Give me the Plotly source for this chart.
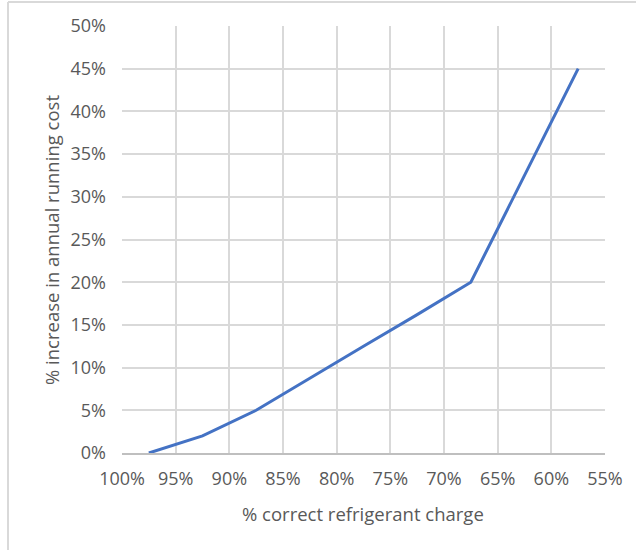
import plotly.graph_objects as go

# Refrigerant charge (% of correct) vs. increase in annual running cost (%)
charge_pct = [97.5, 92.5, 87.5, 82.5, 77.5, 72.5, 67.5, 62.5, 57.5]
cost_increase_pct = [0, 2, 5, 8.8, 12.5, 16.2, 20, 32.5, 45]

x_ticks = [100, 95, 90, 85, 80, 75, 70, 65, 60, 55]
y_ticks = [0, 5, 10, 15, 20, 25, 30, 35, 40, 45, 50]

W, H = 636, 550
L, R, T, B = 122, 31, 26, 97
plot_w = W - L - R
plot_h = H - T - B

FONT = "Open Sans"
TICK_COLOR = "#595959"
GRID = "#d9d9d9"
TICK_SIZE = 18
TITLE_SIZE = 18.5

fig = go.Figure()
fig.add_trace(go.Scatter(
    x=charge_pct,
    y=cost_increase_pct,
    mode="lines",
    line=dict(color="#4472C4", width=3),
    hoverinfo="x+y",
))

def px_to_paper_x(px):
    return (px - L) / plot_w

def px_to_paper_y(py):
    return (H - B - py) / plot_h

# light outer frame around the chart (left and top edges visible)
frame = dict(color="#d9d9d9", width=2)
fig.add_shape(type="line", xref="paper", yref="paper",
              x0=px_to_paper_x(8), x1=px_to_paper_x(8),
              y0=px_to_paper_y(2), y1=px_to_paper_y(560), line=frame)
fig.add_shape(type="line", xref="paper", yref="paper",
              x0=px_to_paper_x(8), x1=px_to_paper_x(640),
              y0=px_to_paper_y(2), y1=px_to_paper_y(2), line=frame)

# axis titles
fig.add_annotation(text="% correct refrigerant charge",
                   xref="paper", yref="paper",
                   x=px_to_paper_x(363), y=px_to_paper_y(513),
                   xanchor="center", yanchor="middle", showarrow=False,
                   font=dict(family=FONT, size=TITLE_SIZE, color=TICK_COLOR))
fig.add_annotation(text="% increase in annual running cost",
                   xref="paper", yref="paper",
                   x=px_to_paper_x(51), y=px_to_paper_y(240),
                   xanchor="center", yanchor="middle", showarrow=False,
                   textangle=-90,
                   font=dict(family=FONT, size=TITLE_SIZE, color=TICK_COLOR))

fig.update_layout(
    width=W, height=H,
    margin=dict(l=L, r=R, t=T, b=B),
    paper_bgcolor="white",
    plot_bgcolor="white",
    showlegend=False,
    font=dict(family=FONT, size=TICK_SIZE, color=TICK_COLOR),
    xaxis=dict(
        range=[100, 55],
        tickvals=x_ticks,
        ticktext=[f"{v}%" for v in x_ticks],
        showgrid=True, gridcolor=GRID, gridwidth=2,
        showline=True, linecolor="#bfbfbf", linewidth=2,
        zeroline=False,
        ticks="", ticklen=0,
        ticklabelstandoff=8,
        tickfont=dict(family=FONT, size=TICK_SIZE, color=TICK_COLOR),
    ),
    yaxis=dict(
        range=[0, 50],
        tickvals=y_ticks,
        ticktext=[f"{v}%" for v in y_ticks],
        showgrid=True, gridcolor=GRID, gridwidth=2,
        showline=False,
        zeroline=False,
        ticks="", ticklen=0,
        ticklabelstandoff=15,
        tickfont=dict(family=FONT, size=TICK_SIZE, color=TICK_COLOR),
    ),
)

fig.write_html("out.html")
